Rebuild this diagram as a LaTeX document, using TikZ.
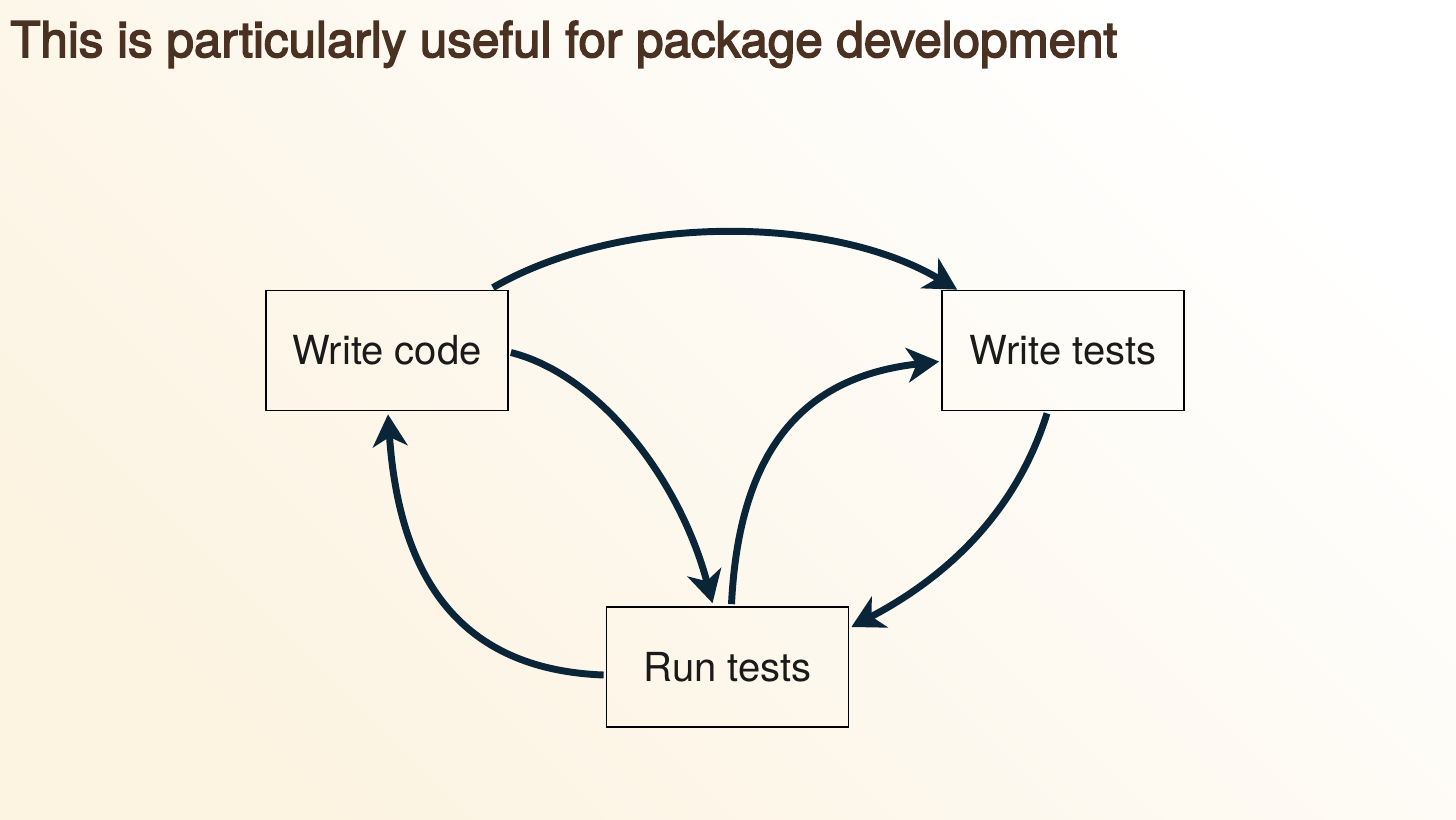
\documentclass[tikz,border=0pt]{standalone}
\usepackage{fontspec}
\setmainfont{TeX Gyre Heros}
\newfontfamily\titlefont[FakeBold=3]{TeX Gyre Heros}
\usetikzlibrary{arrows.meta,calc}
\definecolor{cream}{HTML}{FCF3E1}
\definecolor{titlebrown}{HTML}{4A3122}
\definecolor{arrownavy}{HTML}{0B2538}
\definecolor{boxtext}{HTML}{1A1A1A}
\tikzset{
  stepbox/.style={draw=black, line width=1.3pt, fill=none, minimum width=181.5pt, minimum height=90pt, inner sep=0pt, text=boxtext, font=\fontsize{30}{34}\selectfont},
  flow/.style={draw=arrownavy, line width=5.2pt, -{Stealth[length=24pt,width=26pt,inset=7pt]}},
}
\begin{document}
\begin{tikzpicture}[x=0.75pt,y=-0.75pt]
\shade[top color=white, bottom color=cream, shading angle=-45] (0,0) rectangle (1456,819);
\useasboundingbox (0,0) rectangle (1456,819);
\node[anchor=base west, inner sep=0pt, text=titlebrown, font=\titlefont\fontsize{37}{44}\selectfont] (title) at (10,57) {This is particularly useful for package development};
\node[stepbox] (wc) at (387,350.5) {Write code};
\node[stepbox] (wt) at (1063,350.5) {Write tests};
\node[stepbox] (rt) at (727.5,667) {Run tests};
\draw[flow] ($(wc.north east)+(-16,-2)$) .. controls (620,214) and (830,214) .. ($(wt.north west)+(16,0)$);
\draw[flow] ($(wc.east)+(2,2)$) .. controls (600,375) and (680,480) .. ($(rt.north)+(-15,-3)$);
\draw[flow] ($(rt.north)+(4,-2)$) .. controls (740,430) and (820,375) .. ($(wt.west)+(-2,11)$);
\draw[flow] ($(wt.south)+(-16,2)$) .. controls (1020,500) and (960,570) .. ($(rt.east)+(2,-40)$);
\draw[flow] ($(rt.west)+(-2,8)$) .. controls (470,670) and (400,590) .. ($(wc.south)+(1,3)$);
\end{tikzpicture}
\end{document}
